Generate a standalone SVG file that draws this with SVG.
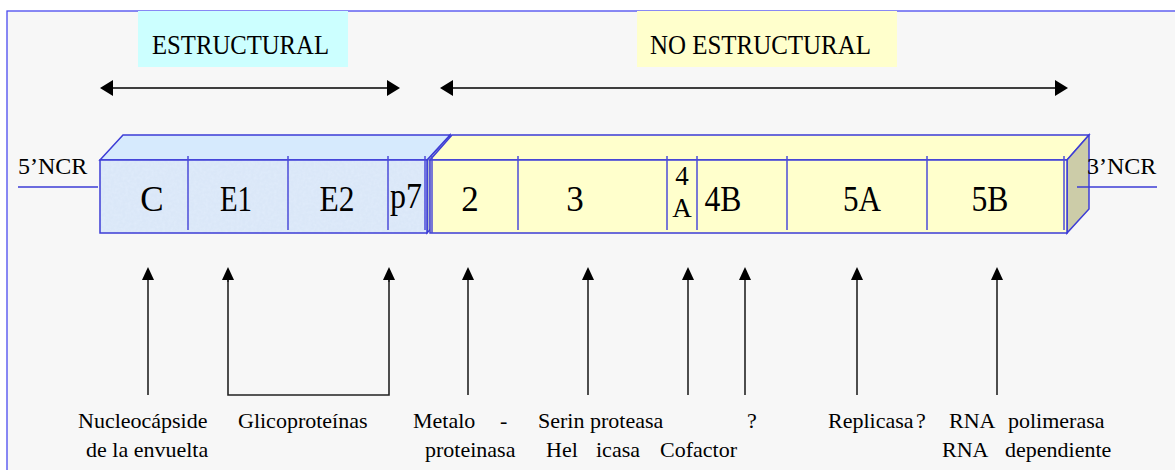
<svg xmlns="http://www.w3.org/2000/svg" width="1175" height="470" viewBox="0 0 1175 470">
  <style>
    .serif { font-family: "Liberation Serif", "Times New Roman", serif; fill: #000; }
    .hdr { font-size: 27px; }
    .seg { font-size: 35px; text-anchor: middle; }
    .ncr { font-size: 24px; }
    .lbl { font-size: 22px; }
    .edge { stroke: #3d3dd6; stroke-width: 1.5; }
    .div { stroke: #4b4bd8; stroke-width: 1.5; }
    .conn { stroke: #222; stroke-width: 1.6; fill: none; }
    .span { stroke: #000; stroke-width: 1.6; fill: none; }
  </style>
  <defs>
    <marker id="headUp" viewBox="0 0 13 12" refX="0" refY="6" markerWidth="13" markerHeight="12" markerUnits="userSpaceOnUse" orient="auto">
      <path d="M0,0 L13,6 L0,12 z" fill="#000"/>
    </marker>
    <marker id="headSpan" viewBox="0 0 13 16" refX="0" refY="8" markerWidth="13" markerHeight="16" markerUnits="userSpaceOnUse" orient="auto-start-reverse">
      <path d="M0,0 L13,8 L0,16 z" fill="#000"/>
    </marker>
    <filter id="grain" x="0" y="0" width="1" height="1">
      <feTurbulence type="fractalNoise" baseFrequency="0.35" numOctaves="2" seed="4" result="n"/>
      <feColorMatrix in="n" type="matrix" values="0 0 0 0 0.78  0 0 0 0 0.86  0 0 0 0 0.98  0 0 0 0.9 -0.3" result="spots"/>
      <feComposite in="spots" in2="SourceGraphic" operator="in" result="clip"/>
      <feMerge><feMergeNode in="SourceGraphic"/><feMergeNode in="clip"/></feMerge>
    </filter>
  </defs>

  <!-- page background and frame -->
  <rect x="0" y="0" width="1175" height="470" fill="#ffffff"/>
  <rect x="7" y="11" width="1175" height="470" fill="#f7f7f7" stroke="#4a4af0" stroke-width="1.3"/>

  <!-- region headers -->
  <g id="header-estructural">
    <rect x="138" y="11" width="210" height="56" fill="#ccffff"/>
    <text class="serif hdr" x="152" y="54" textLength="177" lengthAdjust="spacingAndGlyphs">ESTRUCTURAL</text>
  </g>
  <g id="header-no-estructural">
    <rect x="637" y="11" width="260" height="56" fill="#ffffcc"/>
    <text class="serif hdr" x="650" y="54" textLength="221" lengthAdjust="spacingAndGlyphs">NO ESTRUCTURAL</text>
  </g>

  <!-- 5' non-coding region -->
  <g id="ncr-5">
    <text class="serif ncr" x="18" y="174">5’NCR</text>
    <line x1="18" y1="187" x2="98" y2="187" class="edge"/>
  </g>

  <!-- structural polyprotein block -->
  <g id="block-structural">
    <polygon points="427,160 450,135 450,209 427,233" fill="#b4bccb" class="edge"/>
    <polygon points="100,160 123,135 450,135 427,160" fill="#d6eafd" class="edge"/>
    <rect x="100" y="160" width="327" height="73" fill="#dae7f8" filter="url(#grain)"/>
    <rect x="100" y="160" width="327" height="73" fill="none" class="edge"/>
    <line x1="188" y1="156" x2="188" y2="230" class="div"/>
    <line x1="288" y1="156" x2="288" y2="230" class="div"/>
    <line x1="388" y1="156" x2="388" y2="230" class="div"/>
    <line x1="425" y1="156" x2="425" y2="230" class="div"/>
    <text class="serif seg" x="152" y="211">C</text>
    <text class="serif seg" x="236" y="211" textLength="32" lengthAdjust="spacingAndGlyphs">E1</text>
    <text class="serif seg" x="337" y="211" textLength="35" lengthAdjust="spacingAndGlyphs">E2</text>
    <text class="serif seg" x="406" y="208" textLength="32" lengthAdjust="spacingAndGlyphs">p7</text>
  </g>

  <!-- non-structural polyprotein block -->
  <g id="block-nonstructural">
    <polygon points="430,160 452,135 1089,135 1067,160" fill="#ffffcc" class="edge"/>
    <polygon points="1067,160 1089,135 1089,209 1067,233" fill="#cccca8" class="edge"/>
    <rect x="430" y="160" width="637" height="73" fill="#ffffcc" class="edge"/>
    <line x1="432" y1="156" x2="432" y2="233" class="div"/>
    <line x1="518" y1="156" x2="518" y2="230" class="div"/>
    <line x1="667" y1="156" x2="667" y2="230" class="div"/>
    <line x1="697" y1="156" x2="697" y2="230" class="div"/>
    <line x1="787" y1="156" x2="787" y2="230" class="div"/>
    <line x1="927" y1="156" x2="927" y2="230" class="div"/>
    <line x1="1064" y1="156" x2="1064" y2="230" class="div"/>
    <text class="serif seg" x="470" y="211">2</text>
    <text class="serif seg" x="575" y="211">3</text>
    <text class="serif seg" x="682" y="185" style="font-size:27px">4</text>
    <text class="serif seg" x="682" y="217" style="font-size:27px">A</text>
    <text class="serif seg" x="723" y="211" textLength="37" lengthAdjust="spacingAndGlyphs">4B</text>
    <text class="serif seg" x="862" y="211" textLength="38" lengthAdjust="spacingAndGlyphs">5A</text>
    <text class="serif seg" x="990" y="211" textLength="37" lengthAdjust="spacingAndGlyphs">5B</text>
  </g>

  <!-- 3' non-coding region -->
  <g id="ncr-3">
    <line x1="1077" y1="187" x2="1157" y2="187" class="edge"/>
    <text class="serif ncr" x="1087" y="174">3’NCR</text>
  </g>

  <!-- function labels -->
  <g id="label-nucleocapside">
    <text class="serif lbl" x="78" y="428">Nucleocápside</text>
    <text class="serif lbl" x="86" y="457">de la envuelta</text>
  </g>
  <g id="label-glicoproteinas">
    <text class="serif lbl" x="238" y="428">Glicoproteínas</text>
  </g>
  <g id="label-metaloproteinasa">
    <text class="serif lbl" x="413" y="428">Metalo</text>
    <text class="serif lbl" x="500" y="428">-</text>
    <text class="serif lbl" x="425" y="457">proteinasa</text>
  </g>
  <g id="label-serin-helicasa">
    <text class="serif lbl" x="538" y="428">Serin proteasa</text>
    <text class="serif lbl" x="546" y="457">Hel</text>
    <text class="serif lbl" x="596" y="457">icasa</text>
  </g>
  <g id="label-cofactor">
    <text class="serif lbl" x="660" y="457">Cofactor</text>
  </g>
  <g id="label-unknown">
    <text class="serif lbl" x="747" y="428">?</text>
  </g>
  <g id="label-replicasa">
    <text class="serif lbl" x="828" y="428">Replicasa</text>
    <text class="serif lbl" x="916" y="428">?</text>
  </g>
  <g id="label-polimerasa">
    <text class="serif lbl" x="949" y="428">RNA</text>
    <text class="serif lbl" x="1008" y="428">polimerasa</text>
    <text class="serif lbl" x="942" y="457">RNA</text>
    <text class="serif lbl" x="1005" y="457">dependiente</text>
  </g>

  <!-- connectors -->
  <g id="connectors">
    <line class="span" x1="113" y1="88" x2="387" y2="88" marker-start="url(#headSpan)" marker-end="url(#headSpan)"/>
    <line class="span" x1="453" y1="88" x2="1055" y2="88" marker-start="url(#headSpan)" marker-end="url(#headSpan)"/>
    <line class="conn" x1="148" y1="395" x2="148" y2="280" marker-end="url(#headUp)"/>
    <polyline class="conn" points="228,280 228,395 389,395 389,280"/>
    <line class="conn" x1="228" y1="282" x2="228" y2="280" marker-end="url(#headUp)"/>
    <line class="conn" x1="389" y1="282" x2="389" y2="280" marker-end="url(#headUp)"/>
    <line class="conn" x1="468" y1="395" x2="468" y2="280" marker-end="url(#headUp)"/>
    <line class="conn" x1="588" y1="395" x2="588" y2="280" marker-end="url(#headUp)"/>
    <line class="conn" x1="688" y1="395" x2="688" y2="280" marker-end="url(#headUp)"/>
    <line class="conn" x1="745" y1="395" x2="745" y2="280" marker-end="url(#headUp)"/>
    <line class="conn" x1="857" y1="395" x2="857" y2="280" marker-end="url(#headUp)"/>
    <line class="conn" x1="997" y1="395" x2="997" y2="280" marker-end="url(#headUp)"/>
  </g>
</svg>
